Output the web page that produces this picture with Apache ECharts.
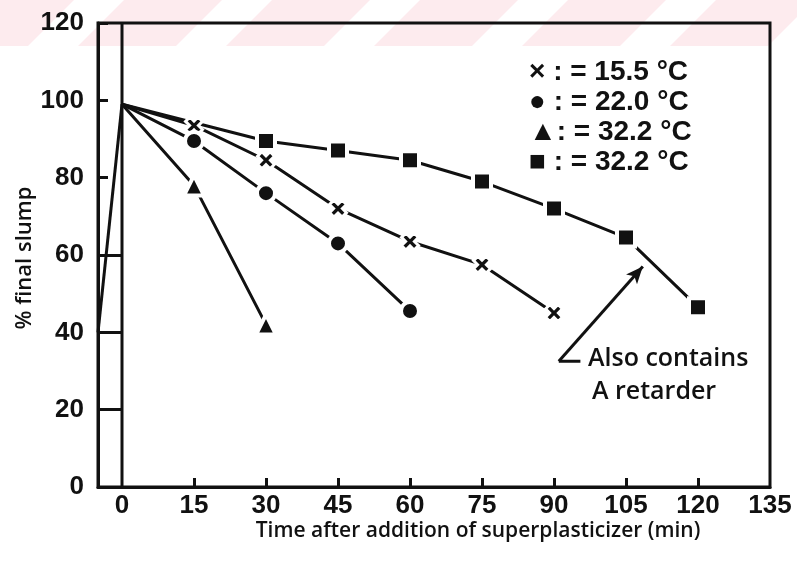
<!DOCTYPE html>
<html>
<head>
<meta charset="utf-8">
<script src="https://cdn.jsdelivr.net/npm/echarts@6/dist/echarts.min.js"></script>
<style>
  html, body { margin: 0; padding: 0; background: #fff; }
  #chart { width: 797px; height: 573px; }
</style>
</head>
<body>
<div id="chart"></div>
<script>
// Slump retention of superplasticized concrete at several temperatures
const xTickValues = [15, 30, 45, 60, 75, 90, 105, 120];
const xLabelValues = [0, 15, 30, 45, 60, 75, 90, 105, 120, 135];

// 15.5 °C
const time155 = [0, 15, 30, 45, 60, 75, 90];
const slump155 = [99, 93.5, 84.5, 72, 63.5, 57.5, 45];
// 22.0 °C
const time220 = [0, 15, 30, 45, 60];
const slump220 = [99, 89.5, 76, 63, 45.5];
// 32.2 °C
const time322 = [0, 15, 30];
const slump322 = [99, 78, 42];
// 32.2 °C, with retarder
const time322r = [0, 30, 45, 60, 75, 90, 105, 120];
const slump322r = [99, 89.5, 87, 84.5, 79, 72, 64.5, 46.5];

// initial rise to the start of the test
const leadInTime = [-5, 0];
const leadInSlump = [40, 99];

// short bracket segments between the frame and the time-zero line
const bracketLevels = [20, 40, 60];

// arrow for the retarder note: tail corner -> head
const arrowTail = [91, 32.5];
const arrowHead = [108.5, 57];

const legendRows = ['× : = 15.5 °C', '● : = 22.0 °C', '▲: = 32.2 °C', '■ : = 32.2 °C'];
const xTitle = 'Time after addition of superplasticizer (min)';
const yTitle = '% final slump';

const crossPath = 'path://M2.6,0 L5,2.4 L7.4,0 L10,2.6 L7.6,5 L10,7.4 L7.4,10 L5,7.6 L2.6,10 L0,7.4 L2.4,5 L0,2.6 Z';
const ink = '#111';

function pairs(xs, ys) {
  return xs.map((x, i) => {
    const p = { value: [x, ys[i]] };
    if (i === 0) p.symbol = 'none';
    return p;
  });
}

function curve(name, xs, ys, symbol, size, halo) {
  return {
    name: name,
    type: 'line',
    data: pairs(xs, ys),
    symbol: symbol,
    symbolSize: size,
    showAllSymbol: true,
    lineStyle: { color: ink, width: 3 },
    itemStyle: { color: ink, borderColor: '#fff', borderWidth: halo, opacity: 1 },
    z: 5,
    animation: false
  };
}

// faint striped band across the top
const stripes = [];
stripes.push({ type: 'rect', shape: { x: 0, y: 0, width: 797, height: 46 }, style: { fill: '#fdebee' }, z: -10, silent: true });
for (let x0 = -120; x0 < 860; x0 += 148) {
  stripes.push({
    type: 'polygon',
    shape: { points: [[x0 + 46, 0], [x0 + 96, 0], [x0 + 50, 46], [x0, 46]] },
    style: { fill: '#ffffff' },
    z: -9,
    silent: true
  });
}

const labelFont = { fontFamily: 'Liberation Sans', fontSize: 26, fontWeight: 'bold', color: ink };

const legendText = legendRows.map((t, i) => ({
  type: 'text',
  left: 529,
  top: 58 + i * 30,
  style: { text: t, fontFamily: 'Liberation Sans', fontSize: 28, fontWeight: 'bold', fill: ink },
  z: 20
}));

const titles = [
  { type: 'text', x: 478, y: 531, style: { text: xTitle, fontFamily: 'Open Sans', fontSize: 21, fontWeight: 600, fill: ink, align: 'center', verticalAlign: 'middle' }, z: 20 },
  { type: 'text', x: 25, y: 258, rotation: Math.PI / 2, style: { text: yTitle, fontFamily: 'Open Sans', fontSize: 22, fontWeight: 600, fill: ink, align: 'center', verticalAlign: 'middle' }, z: 20 }
];

const noteText = [
  { type: 'text', left: 588, top: 346, style: { text: 'Also contains', fontFamily: 'Open Sans', fontSize: 25, fontWeight: 600, fill: ink }, z: 20 },
  { type: 'text', left: 592, top: 379, style: { text: 'A retarder', fontFamily: 'Open Sans', fontSize: 25, fontWeight: 600, fill: ink }, z: 20 }
];

const chart = echarts.init(document.getElementById('chart'), null, { renderer: 'canvas' });

chart.setOption({
  backgroundColor: '#fff',
  animation: false,
  grid: { left: 98, right: 27, top: 23, bottom: 86, show: true, borderColor: ink, borderWidth: 3, backgroundColor: 'transparent' },
  xAxis: {
    type: 'value',
    min: -5,
    max: 135,
    axisLine: { show: true, onZero: false, lineStyle: { color: ink, width: 3 } },
    axisTick: { show: true, inside: true, length: 9, customValues: xTickValues, lineStyle: { color: ink, width: 3 } },
    axisLabel: Object.assign({ margin: 6, customValues: xLabelValues, showMinLabel: true, showMaxLabel: true }, labelFont),
    splitLine: { show: false }
  },
  yAxis: {
    type: 'value',
    min: 0,
    max: 120,
    interval: 20,
    axisLine: { show: true, onZero: false, lineStyle: { color: ink, width: 3 } },
    axisTick: { show: true, inside: true, length: 10, lineStyle: { color: ink, width: 3 } },
    axisLabel: Object.assign({ margin: 14 }, labelFont),
    splitLine: { show: false }
  },
  series: [
    {
      name: 'frame',
      type: 'line',
      data: [[0, 0], [0, 120]],
      symbol: 'none',
      lineStyle: { color: ink, width: 3 },
      z: 3,
      markLine: {
        silent: true,
        symbol: ['none', 'none'],
        label: { show: false },
        lineStyle: { color: ink, width: 3, type: 'solid' },
        data: bracketLevels.map(v => [{ coord: [-5, v] }, { coord: [0, v] }])
      }
    },
    {
      name: 'lead-in',
      type: 'line',
      data: leadInTime.map((x, i) => [x, leadInSlump[i]]),
      symbol: 'none',
      lineStyle: { color: ink, width: 3 },
      z: 3
    },
    curve('15.5 °C', time155, slump155, crossPath, 17, 3),
    curve('22.0 °C', time220, slump220, 'circle', 18, 4),
    curve('32.2 °C', time322, slump322, 'triangle', 20, 4),
    curve('32.2 °C retarder', time322r, slump322r, 'rect', 18, 4),
    {
      name: 'note',
      type: 'line',
      data: [arrowTail, [arrowTail[0] + 4.5, arrowTail[1]]],
      symbol: 'none',
      lineStyle: { color: ink, width: 3 },
      z: 4,
      markLine: {
        silent: true,
        symbol: ['none', 'arrow'],
        symbolSize: [11, 17],
        label: { show: false },
        lineStyle: { color: ink, width: 3, type: 'solid' },
        data: [[{ coord: arrowTail }, { coord: arrowHead }]]
      }
    }
  ],
  graphic: stripes.concat(titles, legendText, noteText)
});
</script>
</body>
</html>
